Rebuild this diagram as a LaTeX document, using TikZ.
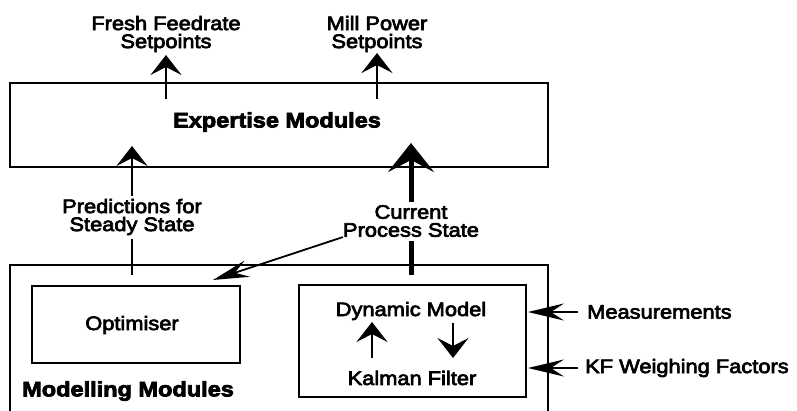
\documentclass[tikz,border=0pt]{standalone}
\usepackage{fontspec}
\setmainfont{Liberation Sans}[FakeStretch=1.12, FakeBold=3.5]
\usetikzlibrary{arrows.meta}
\tikzset{
  box/.style={draw, line width=1.8pt, inner sep=0pt},
  lbl/.style={font=\fontsize{19.5}{18}\selectfont, align=center, inner sep=0pt},
  blbl/.style={font=\fontsize{21}{22}\selectfont\bfseries, inner sep=0pt},
  arr/.style={line width=2pt, -{Stealth[length=20pt,width=31pt,inset=8pt]}},
  thickarr/.style={line width=5pt, -{Stealth[length=29pt,width=46pt,inset=12pt]}},
  sidearr/.style={line width=1.8pt, -{Stealth[length=36pt,width=17pt,inset=13pt]}},
  thinline/.style={line width=1.8pt},
  thickline/.style={line width=5pt},
}
\begin{document}
\begin{tikzpicture}[x=1pt,y=-1pt]
\useasboundingbox (0,0) rectangle (797,410);
\clip (0,0) rectangle (797,410);
\fill[white] (0,0) rectangle (797,410);
% boxes
\node[box, minimum width=538pt, minimum height=84pt] (exp) at (279,125) {};
\node[blbl] (expt) at (277,122) {Expertise Modules};
\node[box, minimum width=538pt, minimum height=175pt] (mod) at (279,352.5) {};
\node[blbl, anchor=west] (modt) at (22,391) {Modelling Modules};
\node[box, minimum width=208pt, minimum height=77pt] (opt) at (136,324.5) {};
\node[lbl] (optt) at (132,325) {Optimiser};
\node[box, minimum width=227pt, minimum height=112pt] (dyn) at (412.5,341) {};
\node[lbl] (dm) at (411,311) {Dynamic Model};
\node[lbl] (kf) at (412,378) {Kalman Filter};
% labels
\node[lbl] (ff) at (166,34) {Fresh Feedrate\\Setpoints};
\node[lbl] (mp) at (377,34) {Mill Power\\Setpoints};
\node[lbl] (pss) at (132,217) {Predictions for\\Steady State};
\node[lbl] (cps) at (411,221) {Current\\Process State};
\node[lbl, anchor=west] (meas) at (587,312) {Measurements};
\node[lbl, anchor=west] (kfw) at (585,368) {KF Weighing Factors};
% coordinates
\coordinate (ffs) at (ff.south |- 0,99);
\coordinate (fft) at (ff.south |- 0,55);
\coordinate (mps) at (mp.south |- 0,99);
\coordinate (mpt) at (mp.south |- 0,53);
\coordinate (psstip) at (pss.north |- 0,146);
\coordinate (pssend) at (pss.south |- 0,275);
\coordinate (cpstip) at (cps.north |- 0,143);
\coordinate (cpsend) at (cps.south |- 0,275);
\coordinate (dtip) at (213,280);
% connectors
\draw[arr] (ffs) -- (fft);
\draw[arr] (mps) -- (mpt);
\draw[arr] ([yshift=3pt]pss.north) -- (psstip);
\draw[thinline] ([yshift=-4pt]pss.south) -- (pssend);
\draw[thickarr] ([yshift=3pt]cps.north) -- (cpstip);
\draw[thickline] ([yshift=-4pt]cps.south) -- (cpsend);
\draw[sidearr] (cps.south west) -- (dtip);
\draw[sidearr] ([xshift=-9pt]meas.west) -- ([xshift=1pt]meas.west -| dyn.east);
\draw[sidearr] ([xshift=-7pt]kfw.west) -- ([xshift=1pt]kfw.west -| dyn.east);
\draw[arr] (372,358) -- (372,322);
\draw[arr] (453,323) -- (453,358);
\end{tikzpicture}
\end{document}
